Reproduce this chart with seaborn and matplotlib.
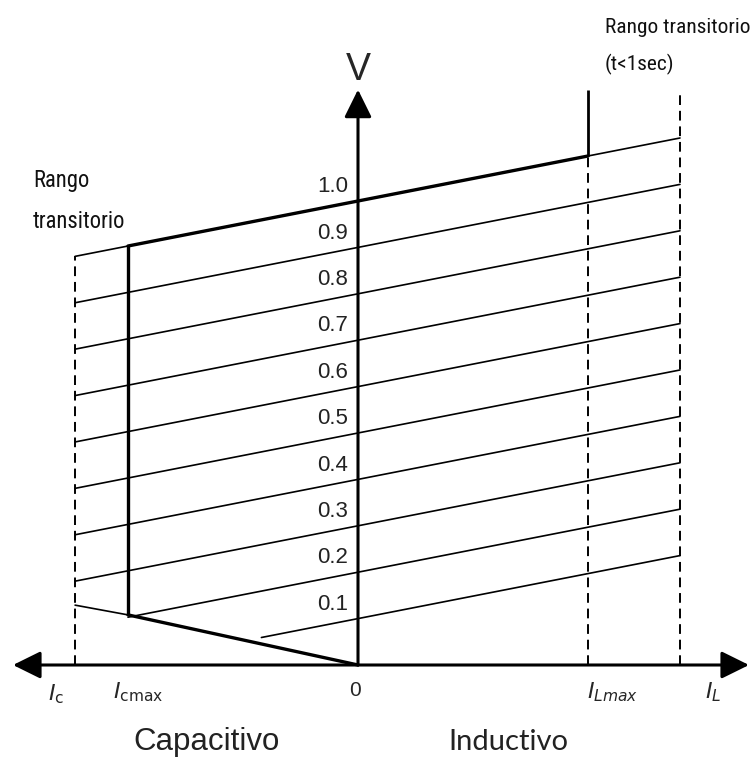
import matplotlib
matplotlib.use("Agg")
import matplotlib.pyplot as plt
import seaborn as sns
import pandas as pd

# Voltage levels drawn as sloped lines (V at I = 0)
levels = [0.1, 0.2, 0.3, 0.4, 0.5, 0.6, 0.7, 0.8, 0.9, 1.0]
level_labels = ["0.1", "0.2", "0.3", "0.4", "0.5", "0.6", "0.7", "0.8", "0.9", "1.0"]
slope = 0.097  # rise of every line per unit of current

# current marks (Icmax and ILmax normalised to 1)
I_c = -1.23
I_cmax = -1.0
I_Lmax = 1.0
I_L = 1.4

# where each level line starts on the left
line_start = [-0.42, -1.0, -1.23, -1.23, -1.23, -1.23, -1.23, -1.23, -1.23, -1.23]

# lower capacitive limit line
diag_I = [-1.23, -1.0, 0.0]
diag_V = [0.129, 0.108, 0.0]

# tops of the vertical marks
I_Lmax_top = 1.24
I_L_top = 1.233
axis_left, axis_right, axis_top = -1.5, 1.70, 1.24

sns.set_style("white")
plt.rcParams["font.family"] = ["Liberation Sans", "DejaVu Sans"]

fig = plt.figure(figsize=(7.52, 7.63), dpi=100)
ax = fig.add_axes([0, 0, 1, 1])
ax.set_xlim(-358 / 230, (752 - 358) / 230)
ax.set_ylim((665 - 763) / 464, 665 / 464)
ax.axis("off")

def level_at(lv, i):
    return lv + slope * i

# family of constant-voltage lines
rows = []
for lv, start in zip(levels, line_start):
    for i in (start, I_L):
        rows.append({"level": lv, "I": i, "V": level_at(lv, i)})
lines_df = pd.DataFrame(rows)
sns.lineplot(data=lines_df, x="I", y="V", units="level", estimator=None,
             color="black", lw=1.2, ax=ax, legend=False)

# lower limit: thin part then thick part
diag_df = pd.DataFrame({"I": diag_I, "V": diag_V})
sns.lineplot(data=diag_df.iloc[:2], x="I", y="V", color="black", lw=1.2, ax=ax)
sns.lineplot(data=diag_df.iloc[1:], x="I", y="V", color="black", lw=2.4, ax=ax)

# thick operating limit on the 1.0 line
top_df = pd.DataFrame({"I": [I_cmax, I_Lmax],
                       "V": [level_at(1.0, I_cmax), level_at(1.0, I_Lmax)]})
sns.lineplot(data=top_df, x="I", y="V", color="black", lw=2.4, ax=ax)

# vertical limits
ax.vlines(I_cmax, diag_V[1], level_at(1.0, I_cmax), color="black", lw=2.4)
ax.vlines(I_Lmax, level_at(1.0, I_Lmax), I_Lmax_top, color="black", lw=2.0)
dash = (0, (5, 3))
ax.vlines(I_c, 0, level_at(1.0, I_c), color="black", lw=1.4, linestyles=[dash])
ax.vlines(I_Lmax, 0, level_at(1.0, I_Lmax), color="black", lw=1.4, linestyles=[dash])
ax.vlines(I_L, 0, I_L_top, color="black", lw=1.4, linestyles=[dash])

# axes with arrow heads
head = "head_length=0.85,head_width=0.42"
ax.annotate("", xy=(axis_right, 0), xytext=(axis_left, 0),
            arrowprops=dict(arrowstyle="<|-|>," + head, color="black", lw=2.2,
                            mutation_scale=20, shrinkA=0, shrinkB=0))
ax.annotate("", xy=(0, axis_top), xytext=(0, 0),
            arrowprops=dict(arrowstyle="-|>," + head, color="black", lw=2.2,
                            mutation_scale=20, shrinkA=0, shrinkB=0))

# level labels
for lv, lab in zip(levels, level_labels):
    ax.text(-0.043, lv + 0.031, lab, ha="right", va="center", fontsize=16, color="#222222")

ax.text(0, 1.282, "V", ha="center", va="center", fontsize=27)

narrow = ["Liberation Sans Narrow", "Roboto Condensed", "DejaVu Sans Condensed",
          "Noto Sans", "DejaVu Sans"]
note = dict(ha="left", va="baseline", family=narrow,
            fontstretch="extra-condensed", color="#111111")
ax.text(-1.413, 1.030, "Rango", fontsize=16.3, **note)
ax.text(-1.413, 0.942, "transitorio", fontsize=16.3, **note)
ax.text(1.072, 1.362, "Rango transitorio", fontsize=15.4, **note)
ax.text(1.072, 1.282, "(t<1sec)", fontsize=15.4, **note)

# current labels
ax.text(-1.313, -0.062, r"$I_{\mathrm{c}}$", ha="center", va="center", fontsize=16)
ax.text(-0.957, -0.058, r"$I_{\mathrm{cmax}}$", ha="center", va="center", fontsize=16)
ax.text(-0.013, -0.056, "0", ha="center", va="center", fontsize=15)
ax.text(1.109, -0.058, r"$I_{Lmax}$", ha="center", va="center", fontsize=16)
ax.text(1.543, -0.058, r"$I_L$", ha="center", va="center", fontsize=16)

ax.text(-0.657, -0.166, "Capacitivo", ha="center", va="center", fontsize=22.5, color="#222222")
ax.text(0.652, -0.166, "Inductivo", ha="center", va="center", fontsize=21,
        family=["Lato", "DejaVu Sans"], color="#222222")

fig.savefig("out.png", dpi=100)
